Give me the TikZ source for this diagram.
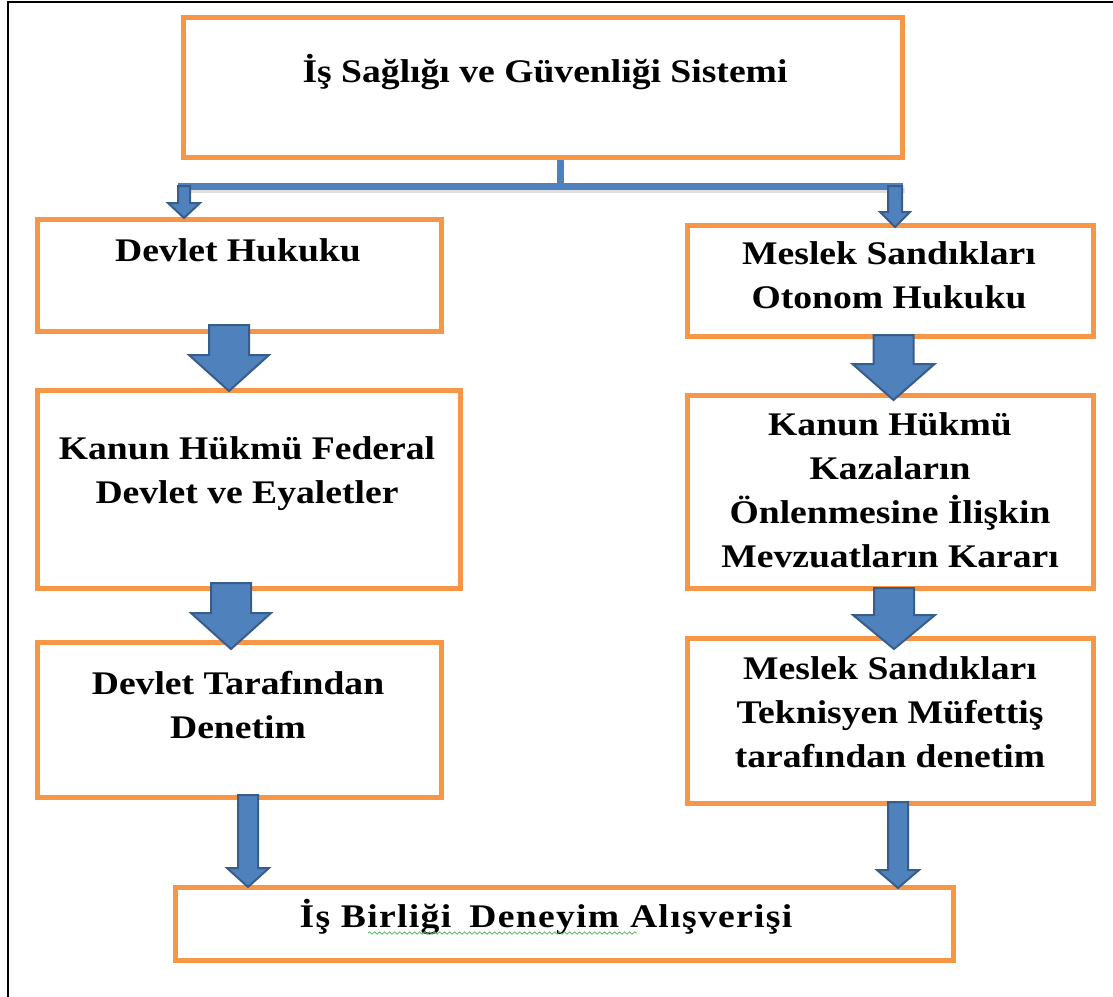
\documentclass[tikz,border=0pt]{standalone}
\usepackage{fontspec}
\setmainfont{Liberation Serif}[FakeStretch=1.14]
\usepackage{xcolor}
\usetikzlibrary{calc,decorations.pathmorphing}

\definecolor{boxorange}{HTML}{F79646}
\definecolor{arrowblue}{HTML}{4F81BD}
\definecolor{arrowedge}{HTML}{385D8A}
\definecolor{spellgreen}{HTML}{5DBB63}

% block arrow: tail, tip, shaft half width, head half width, head length
\newcommand{\blockarrow}[5]{%
  \draw[blockarrow] ($(#1)+(-#3,0)$) -- ($(#1)+(#3,0)$) -- ($(#2)+(#3,-#5)$)
    -- ($(#2)+(#4,-#5)$) -- (#2) -- ($(#2)+(-#4,-#5)$) -- ($(#2)+(-#3,-#5)$) -- cycle;}

\tikzset{
  box/.style={draw=boxorange, line width=5pt, inner sep=0pt},
  boxtext/.style={align=center, inner sep=0pt, font=\fontsize{33}{44}\selectfont\bfseries},
  bar/.style={draw=arrowblue, line width=7pt},
  blockarrow/.style={fill=arrowblue, draw=arrowedge, line width=2pt, line join=miter},
}

\begin{document}
\begin{tikzpicture}[x=1pt, y=-1pt]
        \useasboundingbox (0,0) rectangle (1113,996);
        % frame
        \draw[line width=2pt] (8,1000) -- (8,2) -- (1115,2);

        % boxes
        \node[box, minimum width=719pt, minimum height=140pt] (sistem) at (542.5,87) {};
        \node[box, minimum width=404pt, minimum height=112pt] (devhuk) at (239,275) {};
        \node[box, minimum width=406pt, minimum height=111pt] (otonom) at (890,280.5) {};
        \node[box, minimum width=423pt, minimum height=198pt] (federal) at (248.5,489) {};
        \node[box, minimum width=406pt, minimum height=193pt] (mevzuat) at (890,491.5) {};
        \node[box, minimum width=404pt, minimum height=155pt] (devden) at (239,719.5) {};
        \node[box, minimum width=406pt, minimum height=165pt] (mufettis) at (890,720.5) {};
        \node[box, minimum width=778pt, minimum height=73pt] (isbirligi) at (564,923.5) {};

        % texts
        \node[boxtext] (t-sistem) at (545,72) {İş Sağlığı ve Güvenliği Sistemi};
        \node[boxtext] (t-devhuk) at (238,250) {Devlet Hukuku};
        \node[boxtext] (t-otonom) at (889,275) {Meslek Sandıkları\\Otonom Hukuku};
        \node[boxtext] (t-federal) at (247,474) {Kanun Hükmü Federal\\Devlet ve Eyaletler};
        \node[boxtext] (t-mevzuat) at (890,490) {Kanun Hükmü\\Kazaların\\Önlenmesine İlişkin\\Mevzuatların Kararı};
        \node[boxtext] (t-devden) at (238,705) {Devlet Tarafından\\Denetim};
        \node[boxtext] (t-mufettis) at (890,712) {Meslek Sandıkları\\Teknisyen Müfettiş\\tarafından denetim};
        \node[boxtext] (t-isbirligi) at (546,917) {\addfontfeature{LetterSpace=4}İş Birliği\hspace{18pt}Deneyim Alışverişi};
        \draw[spellgreen, line width=0.8pt, decorate, decoration={snake, amplitude=1.2pt, segment length=5pt}] (368,933) -- (637,933);

        % branching bar
        \coordinate (barmid) at (560,186);
        \coordinate (barL) at (178,186);
        \coordinate (barR) at (903,186);
        \draw[gray!25, line width=5pt] ($(barL)+(2,4)$) -- ($(barR)+(2,4)$);
        \draw[bar] (sistem.south -| barmid) -- (barmid);
        \draw[bar] (barL) -- (barR);

        % small arrows
        \coordinate (sl-t) at (184,186);  \coordinate (sl-h) at (184,218);
        \coordinate (sr-t) at (895,186);  \coordinate (sr-h) at (895,227);
        \blockarrow{sl-t}{sl-h}{6}{16}{15}
        \blockarrow{sr-t}{sr-h}{7}{15}{15}

        % left column arrows
        \coordinate (a1-t) at (229,325);  \coordinate (a1-h) at (229,391);
        \coordinate (a2-t) at (231,583);  \coordinate (a2-h) at (231,649);
        \coordinate (a3-t) at (248,795);  \coordinate (a3-h) at (248,887);
        \blockarrow{a1-t}{a1-h}{20}{40}{36}
        \blockarrow{a2-t}{a2-h}{20}{40}{36}
        \blockarrow{a3-t}{a3-h}{10}{21}{19}

        % right column arrows
        \coordinate (b1-t) at (893.5,335);  \coordinate (b1-h) at (893.5,400);
        \coordinate (b2-t) at (894,588);  \coordinate (b2-h) at (894,649);
        \coordinate (b3-t) at (898,802);  \coordinate (b3-h) at (898,888);
        \blockarrow{b1-t}{b1-h}{20}{41}{36}
        \blockarrow{b2-t}{b2-h}{20}{41}{34}
        \blockarrow{b3-t}{b3-h}{10}{21}{18}
\end{tikzpicture}
\end{document}
